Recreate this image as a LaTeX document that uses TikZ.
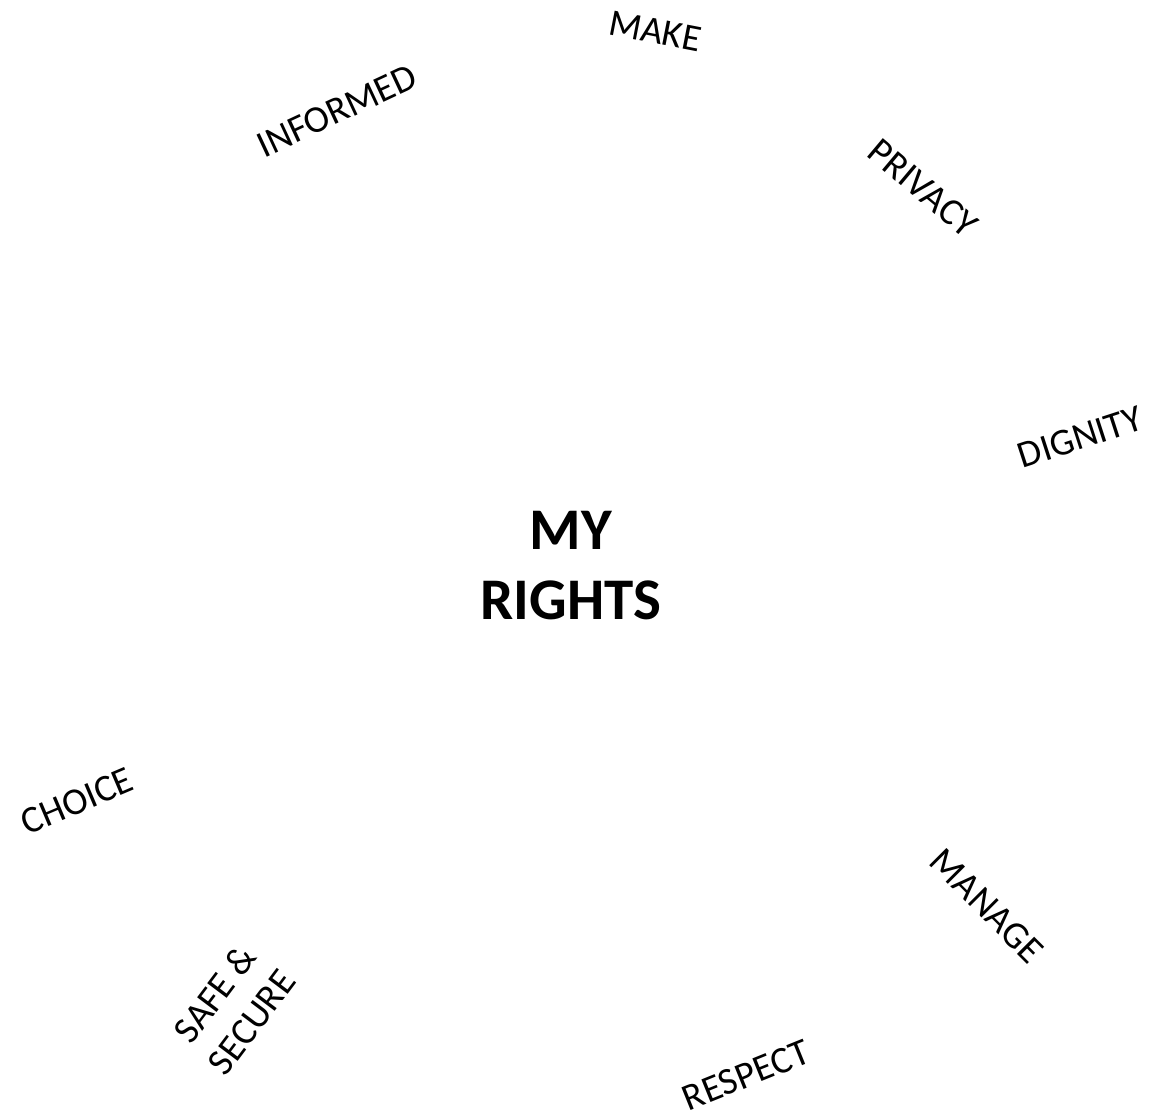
\documentclass[tikz,border=0pt]{standalone}
\usepackage{fontspec}
\setmainfont{Carlito}
\usetikzlibrary{positioning}
\tikzset{
  word/.style={inner sep=0pt,text=black,font=\fontsize{19}{23}\selectfont,align=center},
  title/.style={inner sep=0pt,text=black,font=\fontsize{29.5}{35}\selectfont\bfseries,align=center},
}
\begin{document}
\begin{tikzpicture}[x=0.5pt,y=-0.5pt]
  \useasboundingbox (0,0) rectangle (1153,1115);
  % centre
  \node[title] (rights) at (571,566) {MY\\RIGHTS};
  % top
  \node[word, rotate=-11] (make) at (655,31) {MAKE};
  \node[word, rotate=25] (informed) at (337,111) {INFORMED};
  \node[word, rotate=-40] (privacy) at (923,188) {PRIVACY};
  \node[word, rotate=18] (dignity) at (1080,437) {DIGNITY};
  % bottom
  \node[word, rotate=23] (choice) at (77,801) {CHOICE};
  \node[word, rotate=-45] (manage) at (987,906) {MANAGE};
  \node[word, rotate=53] (safe) at (233,1008) {SAFE \&\\SECURE};
  \node[word, rotate=22] (respect) at (746,1075) {RESPECT};
\end{tikzpicture}
\end{document}
